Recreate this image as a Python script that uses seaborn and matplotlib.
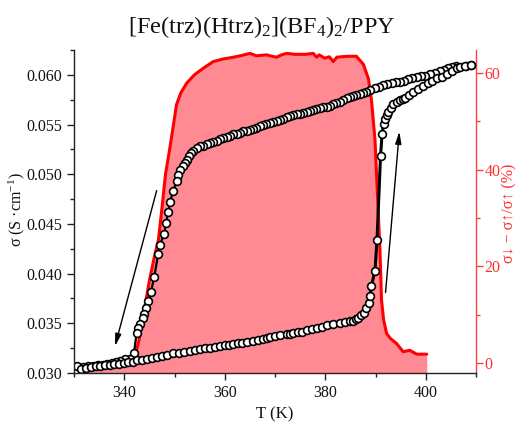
import matplotlib
matplotlib.use('Agg')
import matplotlib.pyplot as plt
import seaborn as sns
from matplotlib.ticker import MultipleLocator

# ---------------- data ----------------
# cooling branch (from 410 K down)
T_cool = [409.1, 408.0, 406.1, 405.3, 404.5, 403.6, 402.8, 401.8, 400.8, 399.8, 399.0, 398.2,
          397.3, 396.5, 395.7, 394.9, 394.0, 393.2, 392.3, 391.5, 390.7, 389.9, 389.0, 388.2,
          387.5, 386.9, 386.2, 385.6, 384.9, 384.3, 383.6, 382.9, 382.2, 381.6, 380.9, 380.3,
          379.6, 378.9, 378.2, 377.6, 376.9, 376.3, 375.6, 375.0, 374.3, 373.6, 373.0, 372.3,
          371.6, 371.0, 370.3, 369.7, 369.0, 368.3, 367.7, 367.0, 366.3, 365.7, 365.0, 364.4,
          363.7, 363.0, 362.4, 361.7, 361.0, 360.4, 359.7, 359.0, 358.4, 357.7, 357.0, 356.4,
          355.7, 355.1, 354.4, 353.7, 353.2, 352.8, 352.4, 352.0, 351.6, 351.1, 350.7, 350.4,
          349.75, 349.1, 348.75, 348.3, 347.96, 347.1, 346.77, 345.97, 345.3, 344.78, 344.3,
          343.9, 343.66, 343.1, 342.8, 342.47, 341.93, 341.13, 340.1, 339.1, 338.3, 337.5,
          336.6, 335.7, 334.8, 333.8, 332.8, 331.8, 330.6]
s_cool = [0.0610, 0.0609, 0.0609, 0.0608, 0.0607, 0.0605, 0.0604, 0.0602, 0.0601, 0.0599, 0.0599, 0.0598,
          0.0597, 0.0596, 0.0594, 0.0593, 0.0593, 0.0592, 0.0591, 0.0590, 0.0588, 0.0587, 0.0585, 0.0583,
          0.0582, 0.0581, 0.0580, 0.0579, 0.0578, 0.0577, 0.0575, 0.0573, 0.0572, 0.0571, 0.0569, 0.0568,
          0.0568, 0.0567, 0.0566, 0.0565, 0.0564, 0.0563, 0.0562, 0.0561, 0.0561, 0.0560, 0.0559, 0.0558,
          0.0556, 0.0555, 0.0554, 0.0553, 0.0552, 0.0551, 0.0550, 0.0549, 0.0547, 0.0546, 0.0545, 0.0544,
          0.0543, 0.0541, 0.0540, 0.0540, 0.0538, 0.0537, 0.0536, 0.0535, 0.0533, 0.0532, 0.0531, 0.0530,
          0.0528, 0.0528, 0.0526, 0.0523, 0.0521, 0.0518, 0.0514, 0.0511, 0.0508, 0.0504, 0.0499, 0.0493,
          0.0483, 0.0472, 0.0462, 0.0451, 0.0440, 0.0429, 0.0420, 0.0397, 0.0381, 0.0372, 0.0365,
          0.0359, 0.0355, 0.0349, 0.0345, 0.0340, 0.0320, 0.0314, 0.0314, 0.0312, 0.0311, 0.0310,
          0.0309, 0.0308, 0.0308, 0.0307, 0.0307, 0.0306, 0.0307]

# heating branch (from 330 K up)
T_heat = [331.4, 332.4, 333.3, 334.3, 335.2, 336.2, 337.1, 338.0, 339.0, 339.9, 340.8, 341.7,
          342.5, 343.5, 344.5, 345.5, 346.5, 347.5, 348.5, 349.8, 350.8, 351.8, 353.1, 354.1,
          355.0, 356.0, 357.0, 358.0, 359.0, 360.0, 360.9, 361.7, 362.6, 363.4, 364.5, 365.7,
          366.7, 367.7, 368.4, 369.0, 370.0, 371.0, 372.3, 373.0, 373.6, 374.5, 375.3, 376.3,
          377.3, 378.3, 379.3, 380.3, 381.6, 383.0, 384.0, 385.0, 385.6, 386.2, 386.6, 387.2,
          387.7, 388.2, 388.7, 388.9, 389.2, 389.9, 390.3, 391.0, 391.3, 391.6, 391.9, 392.3,
          392.5, 393.0, 393.5, 394.2, 394.9, 395.4, 395.9, 396.7, 397.5, 398.5, 399.5, 400.5,
          401.2, 402.2, 403.2, 404.2, 405.2, 406.2, 406.8, 407.8, 409.1]
s_heat = [0.0304, 0.0305, 0.0306, 0.0307, 0.0307, 0.0308, 0.0308, 0.0309, 0.0309, 0.0310, 0.0311, 0.0311,
          0.0313, 0.0313, 0.0314, 0.0315, 0.0316, 0.0317, 0.0318, 0.0320, 0.0320, 0.0321, 0.0322, 0.0323,
          0.0324, 0.0325, 0.0325, 0.0326, 0.0327, 0.0328, 0.0328, 0.0329, 0.0330, 0.0330, 0.0331, 0.0332,
          0.0333, 0.0334, 0.0335, 0.0336, 0.0337, 0.0338, 0.0339, 0.0339, 0.0340, 0.0341, 0.0341, 0.0343,
          0.0344, 0.0345, 0.0346, 0.0348, 0.0349, 0.0350, 0.0351, 0.0352, 0.0352, 0.0354, 0.0355, 0.0358,
          0.0360, 0.0365, 0.0370, 0.0377, 0.0388, 0.0403, 0.0434, 0.0518, 0.0540, 0.0551, 0.0556, 0.0560,
          0.0563, 0.0567, 0.0571, 0.0573, 0.0575, 0.0576, 0.0577, 0.0580, 0.0583, 0.0586, 0.0589, 0.0592,
          0.0594, 0.0597, 0.0598, 0.0601, 0.0604, 0.0607, 0.0608, 0.0609, 0.0610]

# hysteresis difference (%)
T_diff = [330.8, 332.0, 334.0, 336.0, 338.0, 340.0, 341.5, 342.3, 343.0, 344.0, 345.0, 346.0,
          346.8, 347.5, 348.2, 349.0, 349.6, 350.4, 351.3, 352.4, 354.0, 355.7, 357.7, 359.5,
          361.7, 363.5, 365.0, 366.3, 368.3, 369.0, 370.3, 371.3, 372.3, 374.0, 376.0, 377.6,
          378.3, 378.8, 379.9, 380.8, 381.6, 382.3, 383.2, 384.5, 386.2, 387.6, 388.6, 389.2,
          389.9, 390.5, 390.9, 391.2, 391.6, 392.2, 393.0, 394.2, 395.5, 396.8, 398.2, 400.2]
pct = [-0.6, -0.5, -0.5, -0.4, -0.3, -0.3, -0.1, 2.0, 5.0, 11.0, 17.0, 22.0,
       25.5, 32.0, 39.0, 44.0, 48.0, 53.5, 56.0, 57.9, 59.7, 61.0, 62.4, 62.9,
       63.3, 63.7, 64.1, 63.6, 63.8, 63.6, 63.3, 63.8, 64.1, 63.9, 63.9, 64.1,
       63.3, 63.8, 63.1, 63.4, 62.4, 63.3, 63.4, 63.5, 63.5, 61.8, 58.8, 54.4,
       46.2, 32.3, 23.0, 13.0, 9.0, 6.1, 5.0, 4.0, 2.3, 2.6, 1.8, 1.8]

# arrow annotations (tail -> head)
arrow_cool = ((346.45, 0.04835), (338.15, 0.0327))
arrow_heat = ((392.0, 0.0381), (394.75, 0.0543))

title = "[Fe(trz)(Htrz)$_\\mathrm{2}$](BF$_\\mathrm{4}$)$_\\mathrm{2}$/PPY"
xlabel = "T (K)"
ylabel_left = "σ (S ·cm$^{\\mathrm{-1}}$)"
ylabel_right = "σ↓ − σ↑/σ↑ (%)"

# ---------------- plot ----------------
sns.set_theme(style='ticks')
plt.rcParams['font.family'] = ['Liberation Serif', 'DejaVu Serif']
plt.rcParams['mathtext.fontset'] = 'custom'
plt.rcParams['mathtext.rm'] = 'Liberation Serif'
plt.rcParams['mathtext.it'] = 'Liberation Serif:italic'

RED = '#FF0000'
RED_AX = '#FF4040'
FILL = '#FF8A94'

fig = plt.figure(figsize=(5.17, 4.23), dpi=100)
ax = fig.add_axes([74 / 517, 50 / 423, 402 / 517, 323 / 423])
ax2 = ax.twinx()

# red difference curve on right axis
ax2.fill_between(T_diff, pct, -10, color=FILL, lw=0, zorder=1)
sns.lineplot(x=T_diff, y=pct, sort=False, estimator=None, ax=ax2, color=RED, lw=2.2, zorder=2)
ax2.set_ylim(-2.1, 64.8)

# conductivity curves on left axis
ax.set_zorder(ax2.get_zorder() + 1)
ax.patch.set_visible(False)
mk = dict(marker='o', markersize=5.6, markerfacecolor='white', markeredgecolor='black',
          markeredgewidth=1.2)
sns.lineplot(x=T_cool, y=s_cool, sort=False, estimator=None, ax=ax, color='black', lw=1.6, **mk)
sns.lineplot(x=T_heat, y=s_heat, sort=False, estimator=None, ax=ax, color='black', lw=2.2, **mk)

for (tail, head) in (arrow_cool, arrow_heat):
    ax.annotate('', xy=head, xytext=tail,
                arrowprops=dict(arrowstyle='-|>,head_length=0.6,head_width=0.15', lw=1.0,
                                color='black', shrinkA=0, shrinkB=0))

ax.set_xlim(330, 410)
ax.set_ylim(0.030, 0.0625)
ax.xaxis.set_major_locator(MultipleLocator(20))
ax.xaxis.set_minor_locator(MultipleLocator(10))
ax.yaxis.set_major_locator(MultipleLocator(0.005))
ax.yaxis.set_minor_locator(MultipleLocator(0.0025))
ax.yaxis.set_major_formatter(matplotlib.ticker.FormatStrFormatter('%.3f'))
ax2.yaxis.set_major_locator(MultipleLocator(20))
ax2.yaxis.set_minor_locator(MultipleLocator(10))

for s in ('top', 'right'):
    ax.spines[s].set_visible(False)
for s in ('top', 'left', 'bottom'):
    ax2.spines[s].set_visible(False)
for s in ('left', 'bottom'):
    ax.spines[s].set_color('#222222')
    ax.spines[s].set_linewidth(1.0)
ax2.spines['right'].set_color(RED_AX)
ax2.spines['right'].set_linewidth(1.0)

ax.tick_params(which='major', direction='out', length=5, width=1.0, labelsize=11.5,
               colors='#222222', labelcolor='#111111')
ax.tick_params(which='minor', direction='out', length=3, width=1.0, colors='#222222')
ax2.tick_params(which='major', direction='out', length=5, width=1.0, labelsize=11.5, pad=1,
                colors=RED_AX, labelcolor='#FF3030')
ax2.tick_params(which='minor', direction='out', length=3, width=1.0, colors=RED_AX)

ax.set_xlabel(xlabel, fontsize=12, color='#111111')
ax.xaxis.set_label_coords(0.5, -0.104)
ax.set_ylabel(ylabel_left, fontsize=11.5, color='#111111')
ax.yaxis.set_label_coords(-0.117, 0.505)
ax2.set_ylabel(ylabel_right, fontsize=11.5, color='#FF3030')
ax2.yaxis.set_label_coords(1.062, 0.495)

fig.text(262 / 517, 1 - 27 / 423, title, ha='center', va='center', fontsize=17.5, color='#111111')

fig.savefig('out.png', dpi=100)
